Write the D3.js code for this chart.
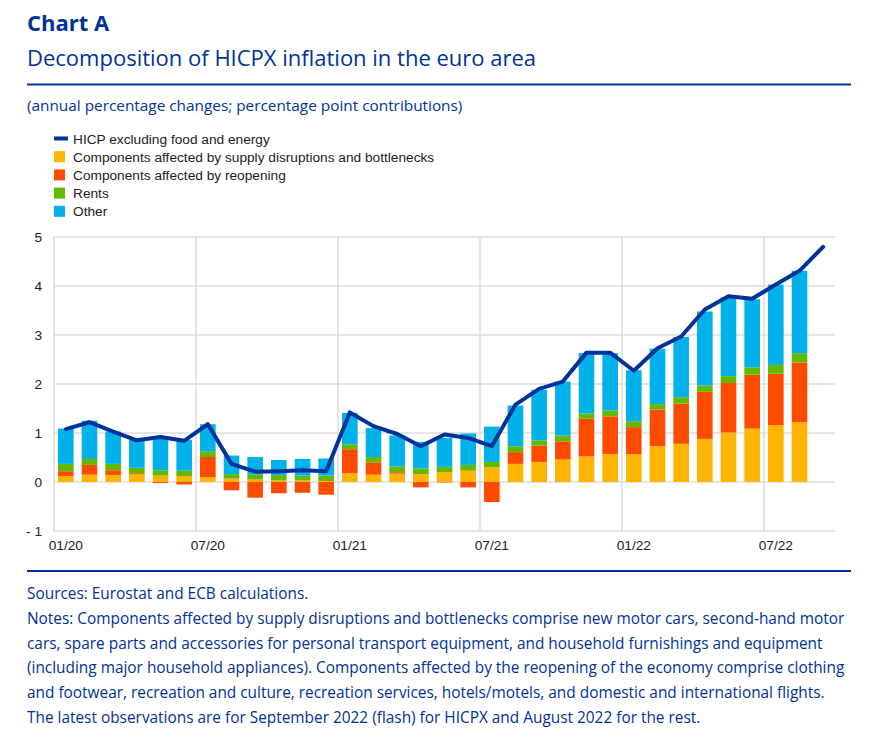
<!DOCTYPE html>
<html>
<head>
<meta charset="utf-8">
<script src="https://cdn.jsdelivr.net/npm/d3@7"></script>
<style>
  html, body { margin: 0; padding: 0; background: #fff; }
  svg { display: block; }
</style>
</head>
<body>
<svg id="chart" width="878" height="745"></svg>
<script>
const months = ["01/20","02/20","03/20","04/20","05/20","06/20","07/20","08/20","09/20","10/20","11/20","12/20",
  "01/21","02/21","03/21","04/21","05/21","06/21","07/21","08/21","09/21","10/21","11/21","12/21",
  "01/22","02/22","03/22","04/22","05/22","06/22","07/22","08/22","09/22"];
const tickLabels = ["01/20","07/20","01/21","07/21","01/22","07/22"];

const supply = [0.12,0.15,0.14,0.16,0.13,0.12,0.10,0.07,0.05,0.03,0.03,0.02,
  0.18,0.15,0.17,0.16,0.20,0.23,0.30,0.37,0.41,0.46,0.52,0.57,
  0.57,0.73,0.78,0.88,1.01,1.09,1.16,1.22];
const reopening = [0.10,0.20,0.10,0.02,-0.02,-0.05,0.41,-0.17,-0.32,-0.23,-0.22,-0.26,
  0.49,0.25,0.03,-0.11,-0.01,-0.11,-0.41,0.24,0.33,0.37,0.77,0.77,
  0.55,0.75,0.82,0.96,1.01,1.10,1.05,1.22];
const rents = [0.15,0.12,0.13,0.11,0.11,0.11,0.12,0.09,0.10,0.11,0.10,0.11,
  0.10,0.11,0.12,0.12,0.11,0.12,0.11,0.12,0.11,0.12,0.11,0.12,
  0.12,0.11,0.13,0.13,0.14,0.15,0.18,0.19];
const other = [0.72,0.78,0.66,0.57,0.68,0.63,0.55,0.38,0.36,0.31,0.34,0.35,
  0.64,0.59,0.63,0.54,0.59,0.64,0.72,0.83,1.03,1.10,1.23,1.17,
  1.04,1.13,1.23,1.51,1.61,1.39,1.64,1.68];
const hicpx = [1.08,1.22,1.03,0.85,0.92,0.84,1.18,0.37,0.21,0.22,0.24,0.22,
  1.42,1.14,0.98,0.73,0.97,0.90,0.73,1.58,1.90,2.05,2.64,2.64,
  2.27,2.73,2.97,3.52,3.79,3.74,4.03,4.31,4.80];
const yTicks = [-1,0,1,2,3,4,5];

const seriesNames = ["Components affected by supply disruptions and bottlenecks",
  "Components affected by reopening","Rents","Other"];
const lineName = "HICP excluding food and energy";
const colors = ["#ffb400","#ff4b00","#65b800","#00b1ea"];
const lineColor = "#003299";
const textBlue = "#003299";

const svg = d3.select("#chart");
const X0 = 54, X1 = 835, Y0 = 237, Y1 = 531;
const chartFont = "'Liberation Sans', Arial, sans-serif";
const chartFontSize = 13.7;

// Header
svg.append("text").attr("x", 27).attr("y", 31)
  .attr("font-family", "'Open Sans', sans-serif").attr("font-weight", 700)
  .attr("font-size", 22).attr("fill", textBlue).text("Chart A");
svg.append("text").attr("x", 27).attr("y", 66)
  .attr("font-family", "'Open Sans', sans-serif")
  .attr("font-size", 22).attr("fill", textBlue).text("Decomposition of HICPX inflation in the euro area");
svg.append("line").attr("x1", 27).attr("x2", 851).attr("y1", 84.5).attr("y2", 84.5)
  .attr("stroke", textBlue).attr("stroke-width", 2);
svg.append("text").attr("x", 27).attr("y", 111)
  .attr("font-family", "'Open Sans', sans-serif")
  .attr("font-size", 15.35).attr("fill", textBlue).text("(annual percentage changes; percentage point contributions)");

// Legend
const legend = svg.append("g").attr("font-family", chartFont)
  .attr("font-size", chartFontSize).attr("fill", "#222");
const legendItems = [{name: lineName, color: lineColor, line: true}]
  .concat(seriesNames.map((n, i) => ({name: n, color: colors[i], line: false})));
legendItems.forEach((d, i) => {
  const cy = 138.5 + i * 18.2;
  if (d.line) {
    legend.append("rect").attr("x", 54).attr("y", cy - 2).attr("width", 14).attr("height", 4).attr("fill", d.color);
  } else {
    legend.append("rect").attr("x", 54).attr("y", cy - 5.5).attr("width", 11).attr("height", 11).attr("fill", d.color);
  }
  legend.append("text").attr("x", 73).attr("y", cy + 5).text(d.name);
});

// Scales
const x = d3.scaleBand().domain(months).range([X0, X1]).paddingInner(0.34).paddingOuter(0.17);
const xBand = d3.scaleBand().domain(months).range([X0, X1]).padding(0);
const y = d3.scaleLinear().domain([-1, 5]).range([Y1, Y0]);

// Grid
const grid = svg.append("g");
grid.selectAll("line.h").data(yTicks).join("line")
  .attr("x1", X0).attr("x2", X1).attr("y1", d => y(d)).attr("y2", d => y(d))
  .attr("stroke", "#dcdcdc").attr("stroke-width", 1.5);
grid.selectAll("line.v").data(tickLabels).join("line")
  .attr("x1", d => xBand(d)).attr("x2", d => xBand(d)).attr("y1", Y0).attr("y2", Y1)
  .attr("stroke", "#dcdcdc").attr("stroke-width", 1.5);

// Stacked bars
const barMonths = months.slice(0, supply.length);
const rows = barMonths.map((m, i) => ({month: m, s0: supply[i], s1: reopening[i], s2: rents[i], s3: other[i]}));
const stack = d3.stack().keys(["s0","s1","s2","s3"]).offset(d3.stackOffsetDiverging);
const stacked = stack(rows);
svg.append("g").selectAll("g").data(stacked).join("g")
  .attr("fill", (d, i) => colors[i])
  .selectAll("rect").data(d => d).join("rect")
  .attr("x", d => x(d.data.month))
  .attr("width", x.bandwidth())
  .attr("y", d => y(Math.max(d[0], d[1])))
  .attr("height", d => Math.abs(y(d[0]) - y(d[1])));

// Line
const line = d3.line().x((d, i) => xBand(months[i]) + xBand.bandwidth() / 2).y(d => y(d));
svg.append("path").datum(hicpx).attr("d", line)
  .attr("fill", "none").attr("stroke", lineColor).attr("stroke-width", 4)
  .attr("stroke-linejoin", "round").attr("stroke-linecap", "round");

// Axes
const yAxis = d3.axisLeft(y).tickValues(yTicks).tickSize(0).tickPadding(0)
  .tickFormat(d => d < 0 ? "- " + Math.abs(d) : String(d));
svg.append("g").attr("transform", `translate(${X0 - 12},0)`).call(yAxis)
  .call(g => g.select(".domain").remove())
  .call(g => g.selectAll("text").attr("font-family", chartFont)
    .attr("font-size", chartFontSize).attr("fill", "#222").attr("dy", "0.35em"));

const xAxis = d3.axisBottom(xBand).tickValues(tickLabels).tickSize(0).tickPadding(0);
svg.append("g").attr("transform", `translate(0,${Y1 + 9})`).call(xAxis)
  .call(g => g.select(".domain").remove())
  .call(g => g.selectAll("text").attr("font-family", chartFont)
    .attr("font-size", chartFontSize).attr("fill", "#222").attr("dy", "0.71em"));

// Footer
svg.append("line").attr("x1", 27).attr("x2", 851).attr("y1", 571).attr("y2", 571)
  .attr("stroke", textBlue).attr("stroke-width", 2);
const notes = [
  "Sources: Eurostat and ECB calculations.",
  "Notes: Components affected by supply disruptions and bottlenecks comprise new motor cars, second-hand motor",
  "cars, spare parts and accessories for personal transport equipment, and household furnishings and equipment",
  "(including major household appliances). Components affected by the reopening of the economy comprise clothing",
  "and footwear, recreation and culture, recreation services, hotels/motels, and domestic and international flights.",
  "The latest observations are for September 2022 (flash) for HICPX and August 2022 for the rest."
];
svg.append("g").selectAll("text").data(notes).join("text")
  .attr("x", 27).attr("y", (d, i) => 599 + i * 24.8)
  .attr("font-family", "'Open Sans', sans-serif").attr("font-size", 15.4).attr("fill", textBlue)
  .text(d => d);
</script>
</body>
</html>
